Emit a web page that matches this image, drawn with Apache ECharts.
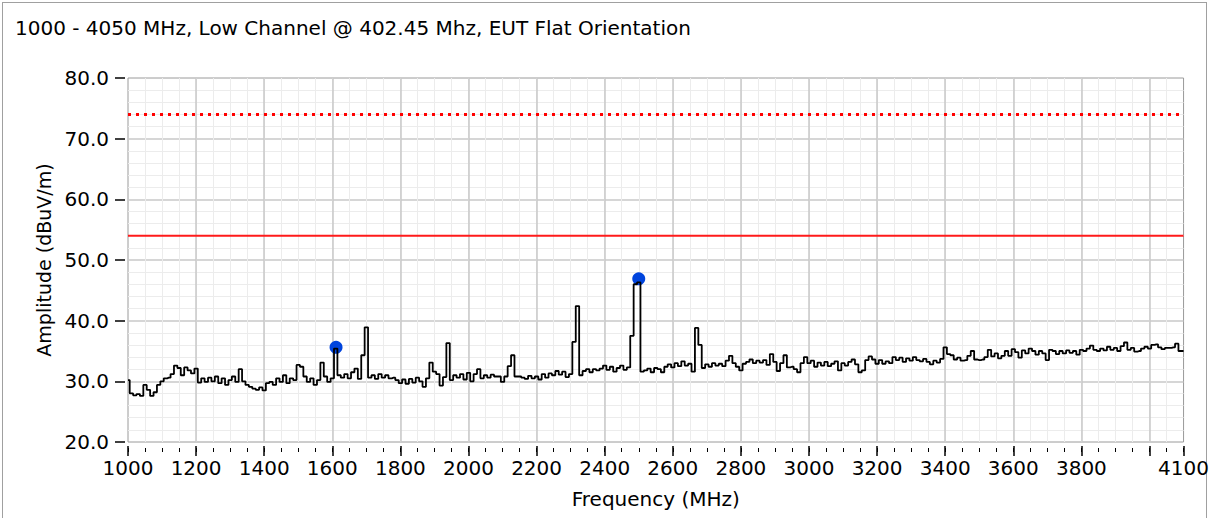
<!DOCTYPE html>
<html>
<head>
<meta charset="utf-8">
<script src="https://cdn.jsdelivr.net/npm/echarts@6/dist/echarts.min.js"></script>
<style>
  html, body { margin: 0; padding: 0; background: #fff; }
  #frame { position: absolute; left: 2px; top: 2px; width: 1205px; height: 530px; border: 1px solid #a0a0a0; box-sizing: border-box; }
  #chart { position: absolute; left: 0; top: 0; width: 1212px; height: 518px; }
</style>
</head>
<body>
<div id="frame"></div>
<div id="chart"></div>
<script>
// sweep: 1000 .. 4100 MHz, one reading every 10 MHz
var freqStart = 1000;
var freqStep = 10;

// measured amplitude (dBuV/m), one row per 100 MHz
var amplitude = [
  30.2, 28.0, 27.7, 27.9, 27.6, 29.4, 28.6, 27.6, 28.2, 29.4,   // 1000
  30.0, 30.5, 30.6, 31.2, 32.6, 32.2, 31.0, 32.3, 31.8, 31.3,   // 1100
  32.1, 29.8, 30.5, 29.9, 30.6, 30.0, 30.8, 29.7, 30.5, 29.4,   // 1200
  30.2, 30.8, 29.9, 32.0, 30.0, 29.4, 29.1, 28.8, 28.6, 29.0,   // 1300
  28.5, 29.7, 29.9, 29.4, 30.5, 29.9, 31.0, 29.7, 30.5, 30.2,   // 1400
  32.7, 32.4, 30.8, 29.9, 30.5, 29.4, 30.2, 33.1, 30.8, 29.9,   // 1500
  30.5, 35.4, 31.0, 30.6, 31.2, 30.5, 31.5, 32.1, 30.4, 34.3,   // 1600
  38.9, 30.6, 31.0, 30.4, 31.2, 30.6, 31.0, 30.5, 30.6, 30.2,   // 1700
  29.7, 30.3, 29.6, 30.4, 29.8, 30.6, 30.0, 29.1, 30.5, 33.1,   // 1800
  31.6, 31.2, 29.3, 30.7, 36.3, 30.2, 31.0, 30.6, 31.2, 30.3,   // 1900
  31.4, 30.0, 31.2, 32.0, 30.5, 31.0, 30.6, 31.1, 30.8, 30.8,   // 2000
  29.9, 30.8, 32.5, 34.3, 30.8, 30.8, 30.6, 30.4, 30.9, 30.5,   // 2100
  30.8, 30.3, 31.2, 30.6, 31.3, 31.0, 31.7, 31.1, 31.6, 30.7,   // 2200
  31.2, 36.5, 42.4, 31.0, 31.7, 32.0, 31.5, 32.0, 31.8, 32.1,   // 2300
  32.6, 31.9, 32.4, 31.6, 32.2, 32.6, 31.9, 32.3, 37.5, 46.0,   // 2400
  46.3, 31.6, 31.8, 32.1, 31.5, 32.2, 32.0, 31.5, 32.4, 32.8,   // 2500
  32.3, 33.0, 32.5, 33.3, 32.6, 32.9, 31.6, 38.8, 36.0, 32.2,   // 2600
  32.8, 32.4, 33.0, 32.6, 32.9, 32.5, 33.4, 34.2, 33.0, 32.4,   // 2700
  31.8, 32.9, 33.2, 33.6, 33.0, 33.4, 33.1, 33.5, 32.7, 34.5,   // 2800
  33.2, 31.7, 33.0, 34.3, 32.3, 32.4, 32.0, 31.5, 33.0, 34.0,   // 2900
  33.0, 33.4, 32.4, 33.1, 32.6, 33.2, 32.5, 32.9, 33.3, 31.8,   // 3000
  33.0, 32.6, 33.2, 33.6, 32.8, 31.5, 31.8, 33.5, 34.1, 33.6,   // 3100
  32.9, 33.5, 32.9, 33.3, 33.0, 34.0, 33.5, 33.9, 33.2, 33.8,   // 3200
  33.4, 34.0, 33.5, 33.3, 33.7, 33.2, 32.8, 33.4, 33.1, 33.7,   // 3300
  35.6, 34.5, 34.3, 33.6, 33.9, 33.4, 33.5, 34.2, 35.0, 33.6,   // 3400
  33.5, 33.6, 34.0, 35.2, 34.1, 34.6, 33.8, 34.2, 35.0, 34.2,   // 3500
  35.3, 34.8, 33.9, 35.1, 34.6, 35.4, 35.0, 34.4, 35.0, 34.6,   // 3600
  33.5, 35.2, 35.0, 34.5, 35.0, 34.6, 35.1, 34.7, 35.0, 34.4,   // 3700
  35.2, 35.0, 35.4, 35.9, 35.2, 35.0, 35.4, 35.1, 35.7, 35.2,   // 3800
  35.5, 35.0, 35.8, 36.4, 35.2, 35.5, 34.9, 35.0, 35.4, 35.7,   // 3900
  35.4, 36.0, 36.1, 35.6, 35.3, 35.5, 35.5, 35.6, 36.2, 35.0,   // 4000
  35.0                                                          // 4100
];

// marked peaks [MHz, dBuV/m]
var peakFreqs = [1611, 2500];
var peakAmps = [35.6, 46.9];

// limit lines (dBuV/m)
var limitPeak = 74.0;
var limitAvg = 54.0;

var xMin = 1000, xMax = 4100;
var yTicks = [20, 80, 10];

var font = 'DejaVu Sans';
var fs = 20;

var trace = amplitude.map(function(v, i) { return [freqStart + i * freqStep, v]; });
var peaks = peakFreqs.map(function(f, i) { return [f, peakAmps[i]]; });

var chart = echarts.init(document.getElementById('chart'), null, { renderer: 'svg' });
chart.setOption({
  animation: false,
  title: {
    text: '1000 - 4050 MHz, Low Channel @ 402.45 Mhz, EUT Flat Orientation',
    left: 10,
    top: 13,
    textStyle: { fontFamily: font, fontSize: fs, fontWeight: 'normal', color: '#000' }
  },
  grid: { left: 128, right: 26, top: 78, bottom: 76, show: true, borderColor: '#9a9a9a', borderWidth: 1, backgroundColor: '#fff' },
  xAxis: [{
    // minor ticks and light grid every 50 MHz
    type: 'value', position: 'bottom', min: xMin, max: xMax, interval: 50, offset: 6,
    axisLine: { show: false },
    axisTick: { length: 4, lineStyle: { color: '#000', width: 1 } },
    axisLabel: { show: false },
    splitLine: { show: true, showMinLine: false, showMaxLine: false, lineStyle: { color: '#ececec', width: 1 } }
  }, {
    // major ticks, labels and grid every 200 MHz
    type: 'value', position: 'bottom', min: xMin, max: xMax, interval: 200, offset: 4,
    name: 'Frequency (MHz)', nameLocation: 'middle', nameGap: 43,
    nameTextStyle: { fontFamily: font, fontSize: fs, color: '#000' },
    axisLine: { show: false },
    axisTick: { length: 10, lineStyle: { color: '#000', width: 1.5 } },
    axisLabel: {
      fontFamily: font, fontSize: fs, color: '#000', margin: 12,
      formatter: function(v) { return v === 4000 ? '' : String(v); }
    },
    splitLine: { show: true, showMinLine: false, showMaxLine: false, lineStyle: { color: '#c8c8c8', width: 1.5 } }
  }],
  yAxis: {
    type: 'value', min: yTicks[0], max: yTicks[1], interval: yTicks[2], offset: 3,
    name: 'Amplitude (dBuV/m)', nameLocation: 'middle', nameGap: 72,
    nameTextStyle: { fontFamily: font, fontSize: 19, color: '#000' },
    axisLine: { show: false },
    axisTick: { show: true, length: 10, lineStyle: { color: '#000', width: 1.5 } },
    axisLabel: { fontFamily: font, fontSize: fs, color: '#000', margin: 16, formatter: function(v) { return v.toFixed(1); } },
    minorTick: { show: false, splitNumber: 5 },
    minorSplitLine: { show: true, lineStyle: { color: '#ececec', width: 1 } },
    splitLine: { show: true, showMinLine: false, showMaxLine: false, lineStyle: { color: '#c8c8c8', width: 1.5 } }
  },
  series: [{
    name: 'Peak limit', type: 'line', xAxisIndex: 1, symbol: 'none', silent: true,
    lineStyle: { color: '#ff0000', width: 3, type: [3, 5] },
    data: [[xMin, limitPeak], [xMax, limitPeak]]
  }, {
    name: 'Average limit', type: 'line', xAxisIndex: 1, symbol: 'none', silent: true,
    lineStyle: { color: '#ff1a1a', width: 2 },
    data: [[xMin, limitAvg], [xMax, limitAvg]]
  }, {
    name: 'Trace', type: 'line', xAxisIndex: 1, symbol: 'none', step: 'middle',
    lineStyle: { color: '#000', width: 1.8 },
    data: trace
  }, {
    name: 'Peaks', type: 'scatter', xAxisIndex: 1, symbolSize: 13,
    itemStyle: { color: '#0044dd', opacity: 1 },
    data: peaks
  }]
});
</script>
</body>
</html>
